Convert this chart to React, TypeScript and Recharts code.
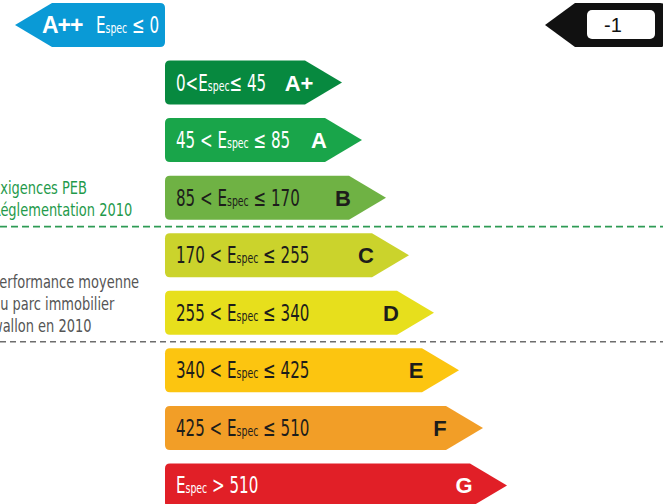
import { ComposedChart, Bar, XAxis, YAxis } from 'recharts'

// energy classes, top row is the A++ arrow pointing left
const classes = ['A++', 'A+', 'A', 'B', 'C', 'D', 'E', 'F', 'G']
const arrowStart = [15, 165, 165, 165, 165, 165, 165, 165, 165]
const arrowEnd = [165, 342, 362, 386, 409, 434, 459, 483, 507]
const rangeBefore = ['', '0<', '45 < ', '85 < ', '170 < ', '255 < ', '340 < ', '425 < ', '']
const rangeAfter = [' ≤ 0', '≤ 45', ' ≤ 85', ' ≤ 170', ' ≤ 255', ' ≤ 340', ' ≤ 425', ' ≤ 510', ' > 510']

// building result shown in the black marker
const markerClass = 'A++'
const markerValue = -1
const markerSpan = [545, 666]

const pebNote = ['Exigences PEB', 'Réglementation 2010']
const pebNoteClass = 'B'
const parcNote = ['Performance moyenne', 'du parc immobilier', 'wallon en 2010']
const parcNoteClass = 'D'

const COLORS: Record<string, string> = {
  'A++': '#0a9ad6',
  'A+': '#07893f',
  A: '#19a54a',
  B: '#6fb244',
  C: '#cbd32c',
  D: '#e7df1c',
  E: '#fcc510',
  F: '#f29e27',
  G: '#e11f27',
}
const LIGHT_TEXT = ['A++', 'A+', 'A', 'G']

const COND = '"DejaVu Sans Condensed", "DejaVu Sans", sans-serif'
const BOLD = '"Liberation Sans", Arial, sans-serif'
const SQUEEZE = 0.73

const rows = classes.map((cls, i) => ({
  cls,
  span: [arrowStart[i], arrowEnd[i]],
  marker: cls === markerClass ? markerSpan : null,
  before: rangeBefore[i],
  after: rangeAfter[i],
}))

const RangeLabel = ({ x, y, before, after, fill, size = 23 }: any) => (
  <text
    transform={`translate(${x} ${y}) scale(${SQUEEZE} 1)`}
    x={0}
    y={0}
    fontSize={size}
    fill={fill}
    fontFamily={COND}
    style={{ whiteSpace: 'pre' }}
  >
    <tspan>{before}E</tspan>
    <tspan fontSize={size * 0.62}>spec</tspan>
    <tspan>{after}</tspan>
  </text>
)

const Note = ({ lines, x, y, fill }: any) => (
  <text transform={`translate(${x} ${y}) scale(0.85 1)`} x={0} y={0} fontSize={17} fill={fill} fontFamily={COND}>
    {lines.map((l: string, i: number) => (
      <tspan key={i} x={0} dy={i === 0 ? 0 : 22}>
        {l}
      </tspan>
    ))}
  </text>
)

const renderArrow = (props: any) => {
  const { x, y, width, height, payload } = props
  const r = 5
  const p = 37
  const cy = y + height / 2
  const fill = COLORS[payload.cls]
  const textFill = LIGHT_TEXT.includes(payload.cls) ? '#ffffff' : '#1d1d1b'

  if (payload.cls === classes[0]) {
    const right = x + width
    const d = `M${right - r},${y} Q${right},${y} ${right},${y + r} L${right},${y + height - r} Q${right},${y + height} ${right - r},${y + height} L${x + p},${y + height} L${x},${cy} L${x + p},${y} Z`
    return (
      <g>
        <path d={d} fill={fill} />
        <text x={x + 27} y={cy + 8} fontSize={23} fontWeight="bold" fill="#fff" fontFamily={BOLD} letterSpacing={-1}>
          {payload.cls}
        </text>
        <RangeLabel x={x + 81} y={cy + 8} before={payload.before} after={payload.after} fill="#fff" size={23} />
      </g>
    )
  }

  const bodyEnd = x + width - p
  const tip = x + width
  const d = `M${x + r},${y} L${bodyEnd},${y} L${tip},${cy} L${bodyEnd},${y + height} L${x + r},${y + height} Q${x},${y + height} ${x},${y + height - r} L${x},${y + r} Q${x},${y} ${x + r},${y} Z`
  const gapBelow = y + height + 7

  return (
    <g>
      <path d={d} fill={fill} />
      <RangeLabel x={x + 11} y={cy + 8} before={payload.before} after={payload.after} fill={textFill} />
      <text x={tip - 43} y={cy + 8} textAnchor="middle" fontSize={22} fontWeight="bold" fill={textFill} fontFamily={BOLD}>
        {payload.cls}
      </text>
      {payload.cls === pebNoteClass && (
        <g>
          <Note lines={pebNote} x={-8} y={cy - 4} fill="#1f9a4b" />
          <line x1={0} x2={666} y1={gapBelow} y2={gapBelow} stroke="#2e9b55" strokeWidth={1.6} strokeDasharray="7 4" />
        </g>
      )}
      {payload.cls === parcNoteClass && (
        <g>
          <Note lines={parcNote} x={-8} y={cy - 25} fill="#555555" />
          <line x1={0} x2={666} y1={gapBelow} y2={gapBelow} stroke="#6d6d6d" strokeWidth={1.6} strokeDasharray="6 4" />
        </g>
      )}
    </g>
  )
}

const renderMarker = (props: any) => {
  const { x, y, width, height } = props
  if (!width) return <g />
  const p = 30
  const r = 6
  const cy = y + height / 2
  const right = x + width
  const d = `M${right - r},${y} Q${right},${y} ${right},${y + r} L${right},${y + height - r} Q${right},${y + height} ${right - r},${y + height} L${x + p},${y + height} L${x},${cy} L${x + p},${y} Z`
  return (
    <g>
      <path d={d} fill="#111111" />
      <rect x={x + 42} y={y + 7} width={68} height={29} rx={5} fill="#ffffff" />
      <text x={x + 68} y={cy + 7} textAnchor="middle" fontSize={20} fill="#111" fontFamily={BOLD}>
        {markerValue}
      </text>
    </g>
  )
}

export default function App() {
  return (
    <div style={{ position: 'absolute', left: 0, top: 0, width: 663, height: 504, overflow: 'hidden', background: '#fff' }}>
      <div style={{ position: 'absolute', left: 0, top: -4 }}>
        <ComposedChart
          width={666}
          height={518}
          data={rows}
          layout="vertical"
          margin={{ top: 0, right: 0, bottom: 0, left: 0 }}
          barSize={44}
          barGap={-44}
        >
          <XAxis type="number" domain={[0, 666]} hide allowDataOverflow />
          <YAxis type="category" dataKey="cls" hide />
          <Bar dataKey="span" shape={renderArrow} isAnimationActive={false} />
          <Bar dataKey="marker" shape={renderMarker} isAnimationActive={false} />
        </ComposedChart>
      </div>
    </div>
  )
}
